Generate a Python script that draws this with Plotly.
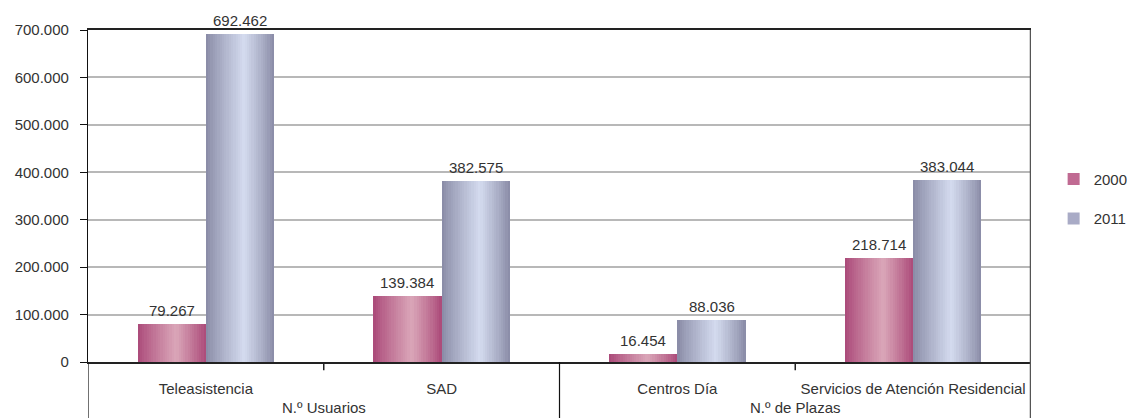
import plotly.graph_objects as go

# ---- data ----
categories = ["Teleasistencia", "SAD", "Centros Día", "Servicios de Atención Residencial"]
groups = ["N.º Usuarios", "N.º de Plazas"]
group_members = [[0, 1], [2, 3]]
series_names = ["2000", "2011"]
values_2000 = [79267, 139384, 16454, 218714]
values_2011 = [692462, 382575, 88036, 383044]
y_ticks = [0, 100000, 200000, 300000, 400000, 500000, 600000, 700000]

# ---- style ----
FONT = "Liberation Sans, Arial, sans-serif"
TXT = "#333333"
BAR_W = 0.29
N_SLICES = 30
PEAK = 0.56
styles = {
    "2000": {"edge": (170, 72, 120), "center": (218, 166, 184), "legend": "#c06a92"},
    "2011": {"edge": (136, 138, 165), "center": (212, 219, 239), "legend": "#a9abc6"},
}


def fmt(v):
    return f"{v:,}".replace(",", ".")


def shade(edge, center, t):
    d = abs(t - PEAK) / (PEAK if t < PEAK else 1 - PEAK)
    f = max(0.0, 1 - d) ** 0.9
    return "rgb({},{},{})".format(*[round(e + (c - e) * f) for e, c in zip(edge, center)])


xs = list(range(len(categories)))
fig = go.Figure()

series = [("2000", values_2000, -BAR_W), ("2011", values_2011, 0.0)]
w = BAR_W / N_SLICES
for name, vals, base in series:
    st = styles[name]
    for i in range(N_SLICES):
        t = (i + 0.5) / N_SLICES
        fig.add_trace(go.Bar(
            x=xs, y=vals,
            offset=base + i * w,
            width=w * (1.6 if i < N_SLICES - 1 else 1.0),
            marker=dict(color=shade(st["edge"], st["center"], t), line=dict(width=0)),
            showlegend=False, hoverinfo="skip",
        ))

# legend entries
for name in series_names:
    fig.add_trace(go.Bar(
        x=[None], y=[None], name=name, legendgroup=name,
        marker=dict(color=styles[name]["legend"], line=dict(width=0)),
        showlegend=True,
    ))

# data labels
for name, vals, base in series:
    for x, v in zip(xs, vals):
        fig.add_annotation(
            x=x + base + BAR_W / 2, y=v, text=fmt(v), showarrow=False,
            yanchor="bottom", yshift=3, font=dict(family=FONT, size=15, color=TXT),
        )

# group labels
for gname, members in zip(groups, group_members):
    fig.add_annotation(
        x=sum(members) / len(members), y=-0.136, xref="x", yref="paper",
        text=gname, showarrow=False, yanchor="middle",
        font=dict(family=FONT, size=15, color=TXT),
    )

# separators below the axis
shapes = []
for members in group_members:
    for a, b in zip(members[:-1], members[1:]):
        shapes.append(dict(type="line", xref="x", yref="paper", x0=(a + b) / 2, x1=(a + b) / 2,
                           y0=0, y1=-0.025, line=dict(color="#222222", width=1.5)))
bounds = [-0.5] + [members[-1] + 0.5 for members in group_members]
for i, b in enumerate(bounds):
    if i == len(bounds) - 1:
        shapes.append(dict(type="line", xref="x", yref="paper", x0=b, x1=b, y0=1, y1=-0.2,
                           line=dict(color="#555555", width=2.5)))
    else:
        shapes.append(dict(type="line", xref="x", yref="paper", x0=b, x1=b, y0=0, y1=-0.2,
                           line=dict(color="#111111", width=1.2)))
fig.update_layout(shapes=shapes)

fig.update_layout(
    width=1127, height=410,
    margin=dict(l=80, r=104, t=22, b=56, autoexpand=False),
    paper_bgcolor="white", plot_bgcolor="white",
    barmode="overlay", bargap=0,
    separators=",.",
    showlegend=True,
    legend=dict(
        x=1.024, xanchor="left", y=0.60, yanchor="top",
        font=dict(family=FONT, size=15, color=TXT),
        tracegroupgap=17, traceorder="grouped", bgcolor="rgba(0,0,0,0)",
    ),
    xaxis=dict(
        range=[-0.5, len(categories) - 0.5], automargin=False,
        tickvals=xs, ticktext=categories,
        showgrid=False, zeroline=False, ticks="",
        showline=True, linecolor="#222222", linewidth=2, mirror=True,
        tickfont=dict(family=FONT, size=15, color=TXT),
        ticklabelstandoff=12,
    ),
    yaxis=dict(
        range=[0, 700000], tickvals=y_ticks, tickformat=",d", automargin=False,
        showgrid=True, gridcolor="#b8b8b8", gridwidth=1.5,
        zeroline=False, showline=True, linecolor="#111111", linewidth=1.2,
        ticks="outside", ticklen=7, tickcolor="#111111", tickwidth=1.2,
        tickfont=dict(family=FONT, size=15, color=TXT),
        ticklabelstandoff=8,
    ),
)

fig.write_html("out.html")
